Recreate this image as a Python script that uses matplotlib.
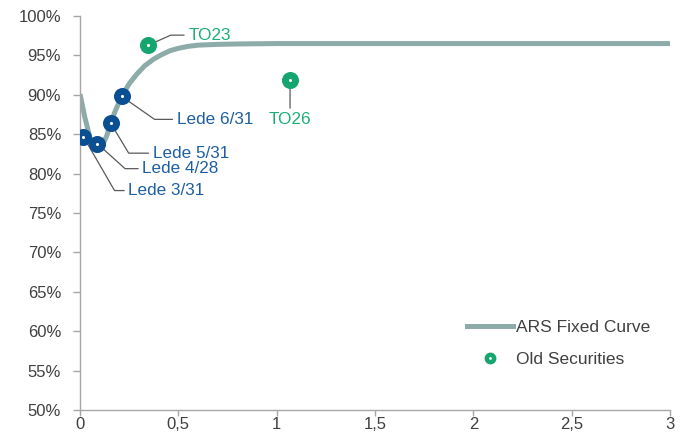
import matplotlib
matplotlib.use("Agg")
from matplotlib import pyplot
from matplotlib.lines import Line2D
from matplotlib.legend_handler import HandlerTuple
from matplotlib.ticker import FuncFormatter, MultipleLocator

pyplot.rcParams["font.family"] = ["Liberation Sans", "DejaVu Sans"]

# fitted fixed-rate curve (maturity in years, price in %)
curve_x = [0, 0.025, 0.05, 0.07, 0.085, 0.1, 0.118, 0.136, 0.156, 0.18, 0.212,
           0.25, 0.288, 0.33, 0.373, 0.415, 0.458, 0.5, 0.55, 0.6, 0.7, 0.8,
           1.0, 1.5, 2.0, 2.5, 3.0]
curve_y = [90.1, 87.1, 84.6, 83.3, 82.9, 83.1, 83.8, 84.8, 86.4, 88.0, 89.8,
           91.4, 92.6, 93.7, 94.5, 95.1, 95.6, 95.9, 96.15, 96.3, 96.4, 96.45,
           96.5, 96.5, 96.5, 96.5, 96.5]

lede_names = ["Lede 3/31", "Lede 4/28", "Lede 5/31", "Lede 6/31"]
lede_x = [0.017, 0.088, 0.156, 0.212]
lede_y = [84.7, 83.8, 86.4, 89.8]

old_names = ["TO23", "TO26"]
old_x = [0.347, 1.068]
old_y = [96.3, 91.9]

curve_color = "#8CABA9"
blue = "#0B4F93"
blue_text = "#1D5FA3"
green = "#14A66E"
green_text = "#1CAF77"
grey = "#A6A6A6"
text_grey = "#404040"

fig = pyplot.figure(figsize=(6.89, 4.45), dpi=100)
ax = fig.add_axes([80 / 689, 35 / 445, 590 / 689, 394 / 445])

ax.plot(curve_x, curve_y, color=curve_color, linewidth=3.6,
        solid_capstyle="butt", zorder=2)

ax.scatter(lede_x, lede_y, s=150, color=blue, zorder=5, linewidths=0)
ax.scatter(lede_x, lede_y, s=5, color="white", zorder=6, linewidths=0)
ax.scatter(old_x, old_y, s=150, color=green, zorder=5, linewidths=0)
ax.scatter(old_x, old_y, s=5, color="white", zorder=6, linewidths=0)

# leader lines: (text offset in pixels, angle of the slanted segment)
lede_offsets = [((45, -54), -60), ((45, -25), -42), ((42, -30), -59), ((55, -23), -35)]
for name, x, y, (off, ang) in zip(lede_names, lede_x, lede_y, lede_offsets):
    ax.annotate(name, (x, y), xytext=off, textcoords="offset pixels",
                ha="left", va="center", fontsize=12.3, color=blue_text, zorder=3,
                arrowprops=dict(arrowstyle="-", color="#595959", lw=0.9,
                                connectionstyle="angle,angleA=0,angleB=%d,rad=0" % ang,
                                relpos=(0, 0.5), shrinkA=1, shrinkB=0))

ax.annotate(old_names[0], (old_x[0], old_y[0]), xytext=(40, 10), textcoords="offset pixels",
            ha="left", va="center", fontsize=12.3, color=green_text, zorder=3,
            arrowprops=dict(arrowstyle="-", color="#595959", lw=0.9,
                            connectionstyle="angle,angleA=0,angleB=24,rad=0",
                            relpos=(0, 0.5), shrinkA=1, shrinkB=0))
ax.annotate(old_names[1], (old_x[1], old_y[1]), xytext=(0, -40), textcoords="offset pixels",
            ha="center", va="center", fontsize=12.3, color=green_text, zorder=3,
            arrowprops=dict(arrowstyle="-", color="#595959", lw=0.9,
                            relpos=(0.5, 1), shrinkA=1, shrinkB=0))

ax.set_xlim(0, 3)
ax.set_ylim(50, 100)
ax.xaxis.set_major_locator(MultipleLocator(0.5))
ax.yaxis.set_major_locator(MultipleLocator(5))
ax.xaxis.set_major_formatter(FuncFormatter(lambda v, p: ("%g" % v).replace(".", ",")))
ax.yaxis.set_major_formatter(FuncFormatter(lambda v, p: "%d%%" % v))

for side in ["top", "right"]:
    ax.spines[side].set_visible(False)
for side in ["left", "bottom"]:
    ax.spines[side].set_color(grey)
    ax.spines[side].set_linewidth(1.0)
ax.tick_params(colors=grey, labelcolor=text_grey, labelsize=12, width=1.0)
ax.tick_params(axis="x", length=4, pad=1)
ax.tick_params(axis="y", length=5, pad=8.5)

curve_handle = Line2D([], [], color=curve_color, linewidth=3.6)
old_handle = (Line2D([], [], marker="o", ls="", ms=8.5, color=green, mew=0),
              Line2D([], [], marker="o", ls="", ms=2, color="white", mew=0))
ax.legend([curve_handle, old_handle], ["ARS Fixed Curve", "Old Securities"],
          handler_map={tuple: HandlerTuple(ndivide=1)},
          loc="upper left", bbox_to_anchor=(0.656, 0.228), frameon=False,
          borderpad=0, borderaxespad=0,
          fontsize=12.5, labelcolor=text_grey, handlelength=2.65, handletextpad=0.17,
          labelspacing=0.93)

pyplot.savefig("out.png", dpi=100)
